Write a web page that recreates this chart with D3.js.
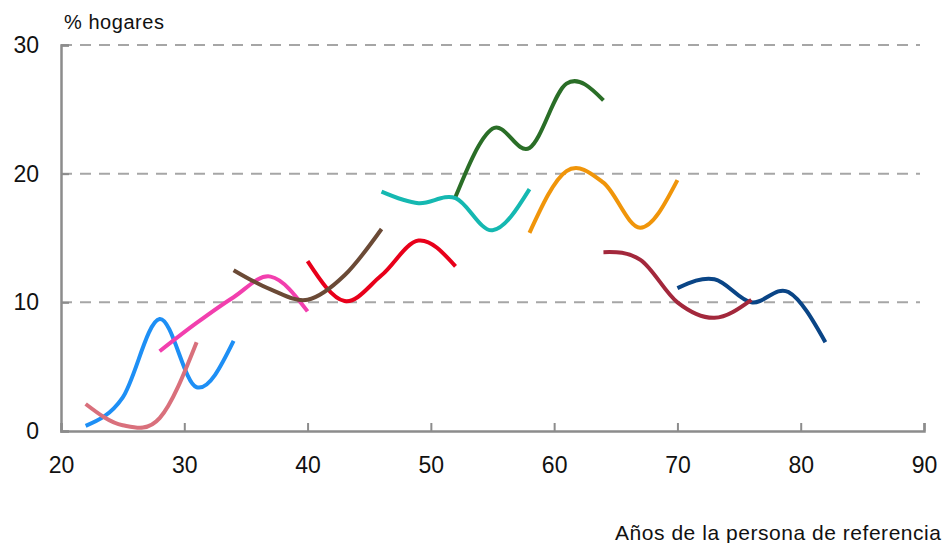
<!DOCTYPE html>
<html>
<head>
<meta charset="utf-8">
<script src="https://cdn.jsdelivr.net/npm/d3@7"></script>
<style>
  html, body { margin: 0; padding: 0; background: #fff; }
  svg { display: block; font-family: "Liberation Sans", Arial, Helvetica, sans-serif; }
</style>
</head>
<body>
<svg id="chart" width="944" height="543"></svg>
<script>
// ---- Data ----
const xTicks = [20, 30, 40, 50, 60, 70, 80, 90];
const yTicks = [0, 10, 20, 30];
const yTitle = "% hogares";
const xTitle = "Años de la persona de referencia";

const blueAges   = [22, 25, 28, 31, 34];
const blueVals   = [0.4, 2.6, 8.7, 3.4, 7.0];
const mauveAges  = [22, 25, 28, 31];
const mauveVals  = [2.1, 0.45, 1.0, 6.9];
const pinkAges   = [28, 31, 34, 37, 40];
const pinkVals   = [6.2, 8.4, 10.4, 12.0, 9.3];
const brownAges  = [34, 37, 40, 43, 46];
const brownVals  = [12.5, 11.0, 10.2, 12.1, 15.7];
const redAges    = [40, 43, 46, 49, 52];
const redVals    = [13.2, 10.1, 12.1, 14.8, 12.8];
const tealAges   = [46, 49, 52, 55, 58];
const tealVals   = [18.6, 17.7, 18.1, 15.6, 18.8];
const greenAges  = [52, 55, 58, 61, 64];
const greenVals  = [18.2, 23.5, 22.0, 27.0, 25.7];
const orangeAges = [58, 61, 64, 67, 70];
const orangeVals = [15.4, 20.2, 19.3, 15.8, 19.5];
const maroonAges = [64, 67, 70, 73, 76];
const maroonVals = [13.9, 13.3, 10.0, 8.8, 10.2];
const navyAges   = [70, 73, 76, 79, 82];
const navyVals   = [11.1, 11.8, 10.0, 10.8, 6.9];

// drawing order and colours
const series = [
  { ages: blueAges,   vals: blueVals,   color: "#1e8ff5" },
  { ages: mauveAges,  vals: mauveVals,  color: "#d9707c" },
  { ages: pinkAges,   vals: pinkVals,   color: "#f23fae" },
  { ages: redAges,    vals: redVals,    color: "#e8001a" },
  { ages: brownAges,  vals: brownVals,  color: "#6b4a36" },
  { ages: greenAges,  vals: greenVals,  color: "#2a6e27" },
  { ages: tealAges,   vals: tealVals,   color: "#15b8b1" },
  { ages: orangeAges, vals: orangeVals, color: "#f0950a" },
  { ages: navyAges,   vals: navyVals,   color: "#0a4586" },
  { ages: maroonAges, vals: maroonVals, color: "#a3283c" }
];

// ---- Layout ----
const svg = d3.select("#chart");
const x = d3.scaleLinear().domain([20, 90]).range([61, 924]);
const y = d3.scaleLinear().domain([0, 30]).range([431, 45]);
const axisColor = "#8c8c8c";

// grid lines (dashed)
svg.append("g").selectAll("line")
  .data(yTicks.filter(d => d > 0))
  .join("line")
  .attr("x1", x(20)).attr("x2", x(90) - 4)
  .attr("y1", d => y(d)).attr("y2", d => y(d))
  .attr("stroke", "#a6a6a6")
  .attr("stroke-width", 2)
  .attr("stroke-dasharray", "11,8");

// x axis
const xAxis = d3.axisBottom(x).tickValues(xTicks).tickSize(-8).tickPadding(18).tickFormat(d3.format("d"));
const gx = svg.append("g").attr("transform", `translate(0,${y(0)})`).call(xAxis);
gx.select(".domain").attr("stroke", axisColor).attr("stroke-width", 2.5);
gx.selectAll(".tick line").attr("stroke", axisColor).attr("stroke-width", 2);
gx.selectAll(".tick text")
  .attr("fill", "#111").attr("font-size", 23)
  .attr("font-family", "Liberation Sans, Arial, sans-serif")
  .attr("dy", "0.71em").attr("y", 26);

// y axis
const yAxis = d3.axisLeft(y).tickValues(yTicks).tickSize(-8).tickPadding(22).tickFormat(d3.format("d"));
const gy = svg.append("g").attr("transform", `translate(${x(20)},0)`).call(yAxis);
gy.select(".domain").attr("stroke", axisColor).attr("stroke-width", 2.5);
gy.selectAll(".tick line").attr("stroke", axisColor).attr("stroke-width", 2);
gy.selectAll(".tick text")
  .attr("fill", "#111").attr("font-size", 23)
  .attr("font-family", "Liberation Sans, Arial, sans-serif");

// smoothed line (cubic Hermite: central-difference tangents, parabolic end tangents)
function smoothPath(ages, vals) {
  const n = ages.length;
  const t = new Array(n);
  const slope = i => (vals[i + 1] - vals[i]) / (ages[i + 1] - ages[i]);
  for (let i = 1; i < n - 1; i++) {
    t[i] = (vals[i + 1] - vals[i - 1]) / (ages[i + 1] - ages[i - 1]);
  }
  t[0] = (3 * slope(0) - t[1]) / 2;
  t[n - 1] = (3 * slope(n - 2) - t[n - 2]) / 2;
  const p = d3.path();
  p.moveTo(x(ages[0]), y(vals[0]));
  for (let i = 0; i < n - 1; i++) {
    const h = (ages[i + 1] - ages[i]) / 3;
    p.bezierCurveTo(
      x(ages[i] + h), y(vals[i] + t[i] * h),
      x(ages[i + 1] - h), y(vals[i + 1] - t[i + 1] * h),
      x(ages[i + 1]), y(vals[i + 1])
    );
  }
  return p.toString();
}

svg.append("g").selectAll("path")
  .data(series)
  .join("path")
  .attr("d", s => smoothPath(s.ages, s.vals))
  .attr("fill", "none")
  .attr("stroke", s => s.color)
  .attr("stroke-width", 4);

// titles
svg.append("text")
  .attr("x", 64).attr("y", 29)
  .attr("font-size", 20)
  .attr("fill", "#111")
  .attr("textLength", 100)
  .text(yTitle);

svg.append("text")
  .attr("x", 941).attr("y", 540)
  .attr("text-anchor", "end")
  .attr("font-size", 21)
  .attr("fill", "#111")
  .attr("textLength", 326)
  .text(xTitle);
</script>
</body>
</html>
